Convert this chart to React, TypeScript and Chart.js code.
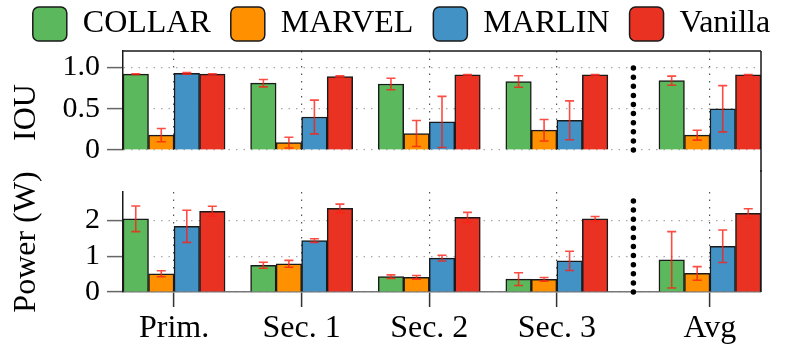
import React, { useEffect, useRef } from 'react';
import { Chart, registerables } from 'chart.js';

Chart.register(...registerables);

// Groups along the x axis; "Avg" sits a little apart behind a dotted separator.
const groupLabels = ['Prim.', 'Sec. 1', 'Sec. 2', 'Sec. 3', 'Avg'];
const groupPositions = [0, 1, 2, 3, 4.2];
const separatorPosition = 3.6;

const seriesNames = ['COLLAR', 'MARVEL', 'MARLIN', 'Vanilla'];
const seriesColors = ['#5cb85c', '#ff9100', '#4292c6', '#ea3223'];
const seriesOffsets = [-0.3, -0.1, 0.1, 0.3];

// IOU (mean and error half-width)
const iouCollar = [0.92, 0.81, 0.8, 0.83, 0.84];
const iouMarvel = [0.18, 0.09, 0.2, 0.24, 0.18];
const iouMarlin = [0.93, 0.4, 0.34, 0.36, 0.5];
const iouVanilla = [0.92, 0.89, 0.91, 0.91, 0.91];
const iouCollarErr = [0.005, 0.045, 0.07, 0.07, 0.055];
const iouMarvelErr = [0.08, 0.065, 0.157, 0.13, 0.06];
const iouMarlinErr = [0.01, 0.205, 0.31, 0.235, 0.28];
const iouVanillaErr = [0.005, 0.008, 0.005, 0.005, 0.005];

// Power in watts (mean and error half-width)
const powerCollar = [2.05, 0.75, 0.43, 0.36, 0.9];
const powerMarvel = [0.51, 0.79, 0.41, 0.355, 0.52];
const powerMarlin = [1.84, 1.44, 0.95, 0.87, 1.28];
const powerVanilla = [2.26, 2.34, 2.09, 2.05, 2.2];
const powerCollarErr = [0.36, 0.085, 0.05, 0.18, 0.79];
const powerMarvelErr = [0.085, 0.095, 0.05, 0.05, 0.19];
const powerMarlinErr = [0.45, 0.05, 0.08, 0.27, 0.455];
const powerVanillaErr = [0.14, 0.12, 0.14, 0.065, 0.13];

const iouTicks = [0, 0.5, 1.0];
const powerTicks = [0, 1, 2];

const FONT = "'Liberation Serif', 'Times New Roman', serif";

const errorBars = {
  id: 'errorBars',
  afterDatasetsDraw(chart: any) {
    const { ctx } = chart;
    const yScale = chart.scales.y;
    ctx.save();
    ctx.strokeStyle = 'rgba(250, 32, 20, 0.8)';
    ctx.lineWidth = 1.6;
    chart.data.datasets.forEach((ds: any, di: number) => {
      const meta = chart.getDatasetMeta(di);
      meta.data.forEach((bar: any, i: number) => {
        const v = ds.data[i].y;
        const e = ds.errors[i];
        const yHi = yScale.getPixelForValue(v + e);
        const yLo = yScale.getPixelForValue(v - e);
        const x = bar.x;
        ctx.beginPath();
        ctx.moveTo(x, yHi);
        ctx.lineTo(x, yLo);
        ctx.moveTo(x - 4.5, yHi);
        ctx.lineTo(x + 4.5, yHi);
        ctx.moveTo(x - 4.5, yLo);
        ctx.lineTo(x + 4.5, yLo);
        ctx.stroke();
      });
    });
    ctx.restore();
  },
};

const frameLines = {
  id: 'frameLines',
  afterDatasetsDraw(chart: any, _args: any, opts: any) {
    const { ctx, chartArea: a } = chart;
    ctx.save();
    ctx.strokeStyle = '#1a1a1a';
    ctx.lineWidth = 1.5;
    ctx.beginPath();
    if (opts.top) {
      ctx.moveTo(a.left, a.top);
      ctx.lineTo(a.right, a.top);
    }
    ctx.moveTo(a.right, opts.rightFromEdge ? 0 : a.top);
    ctx.lineTo(a.right, opts.rightToEdge ? chart.height : a.bottom);
    ctx.stroke();

    const xs = chart.scales.x.getPixelForValue(separatorPosition);
    ctx.strokeStyle = '#000';
    ctx.lineCap = 'round';
    ctx.lineWidth = 5.5;
    ctx.setLineDash([0, 9.1]);
    ctx.beginPath();
    ctx.moveTo(xs, a.bottom);
    ctx.lineTo(xs, a.top + 8);
    ctx.stroke();
    ctx.restore();
  },
};

function makeDatasets(values: number[][], errors: number[][]) {
  return seriesNames.map((name, i) => ({
    label: name,
    data: values[i].map((v, j) => ({ x: groupPositions[j] + seriesOffsets[i], y: v })),
    errors: errors[i],
    backgroundColor: seriesColors[i],
    borderColor: '#1a1a1a',
    borderWidth: 1.5,
    grouped: false,
    barPercentage: 1,
    categoryPercentage: 1,
    xAxisID: 'x',
    yAxisID: 'y',
  }));
}

function makeConfig(panel: 'iou' | 'power'): any {
  const isTop = panel === 'iou';
  const tickValues = isTop ? iouTicks : powerTicks;
  const values = isTop
    ? [iouCollar, iouMarvel, iouMarlin, iouVanilla]
    : [powerCollar, powerMarvel, powerMarlin, powerVanilla];
  const errors = isTop
    ? [iouCollarErr, iouMarvelErr, iouMarlinErr, iouVanillaErr]
    : [powerCollarErr, powerMarvelErr, powerMarlinErr, powerVanillaErr];

  const scales: any = {
    x: {
      type: 'linear',
      min: -0.4,
      max: 4.6,
      offset: false,
      afterBuildTicks: (s: any) => {
        s.ticks = groupPositions.map((v) => ({ value: v }));
      },
      afterFit: (s: any) => {
        s.height = isTop ? 22 : 53;
      },
      ticks: {
        display: !isTop,
        autoSkip: false,
        maxRotation: 0,
        minRotation: 0,
        padding: 2,
        font: { family: FONT, size: 32 },
        color: '#000',
        callback: (_v: any, i: number) => groupLabels[i],
      },
      grid: {
        offset: false,
        color: '#555',
        lineWidth: 1.2,
        drawTicks: !isTop,
        tickLength: 15,
        tickColor: '#333',
        tickWidth: 1.5,
      },
      border: { display: !isTop, color: '#777', width: 1.5, dash: [1.5, 6] },
    },
    y: {
      type: 'linear',
      position: 'left',
      min: 0,
      max: isTop ? 1.2 : 2.8,
      afterBuildTicks: (s: any) => {
        s.ticks = tickValues.map((v) => ({ value: v }));
      },
      afterFit: (s: any) => {
        s.width = 123;
      },
      ticks: {
        font: { family: FONT, size: 30, lineHeight: 1 },
        color: '#000',
        padding: 7,
        callback: (v: any) => (v === 0 ? '0' : isTop ? Number(v).toFixed(1) : String(v)),
      },
      grid: {
        color: '#aaa',
        lineWidth: 1.2,
        tickLength: 16,
        tickColor: '#666',
        tickWidth: 1.5,
      },
      border: { display: true, color: '#1a1a1a', width: 1.5, dash: [1.5, 6] },
      title: {
        display: true,
        // trailing spaces nudge the rotated label a little lower
        text: isTop ? 'IOU   ' : 'Power (W)',
        font: { family: FONT, size: 32 },
        color: '#000',
        padding: { top: 7, bottom: 0 },
      },
    },
    yR: {
      type: 'linear',
      position: 'right',
      display: true,
      afterFit: (s: any) => {
        s.width = 42;
      },
      ticks: { display: false },
      grid: { display: false },
      border: { display: false },
    },
  };

  return {
    type: 'bar',
    data: { datasets: makeDatasets(values, errors) },
    plugins: [errorBars, frameLines],
    options: {
      responsive: false,
      animation: false,
      layout: { padding: { top: isTop ? 0 : 22, left: 0, right: 0, bottom: 0 } },
      plugins: {
        legend: {
          display: isTop,
          position: 'top',
          labels: {
            font: { family: FONT, size: 32 },
            color: '#000',
            boxWidth: 34,
            boxHeight: 34,
            padding: 20,
            useBorderRadius: true,
            borderRadius: 6,
          },
        },
        tooltip: { enabled: false },
        frameLines: { top: isTop, rightFromEdge: !isTop, rightToEdge: isTop },
      },
      scales,
    },
  };
}

export default function App() {
  const topRef = useRef<HTMLCanvasElement>(null);
  const bottomRef = useRef<HTMLCanvasElement>(null);

  useEffect(() => {
    document.body.style.margin = '0';
    const top = new Chart(topRef.current as HTMLCanvasElement, makeConfig('iou'));
    const bottom = new Chart(bottomRef.current as HTMLCanvasElement, makeConfig('power'));
    return () => {
      top.destroy();
      bottom.destroy();
    };
  }, []);

  return (
    <div style={{ position: 'relative', width: 803, height: 345, overflow: 'hidden', background: '#fff' }}>
      <canvas
        ref={topRef}
        width={803}
        height={185}
        style={{ position: 'absolute', left: 0, top: -13, width: 803, height: 185 }}
      />
      <canvas
        ref={bottomRef}
        width={803}
        height={175}
        style={{ position: 'absolute', left: 0, top: 170, width: 803, height: 175 }}
      />
    </div>
  );
}
